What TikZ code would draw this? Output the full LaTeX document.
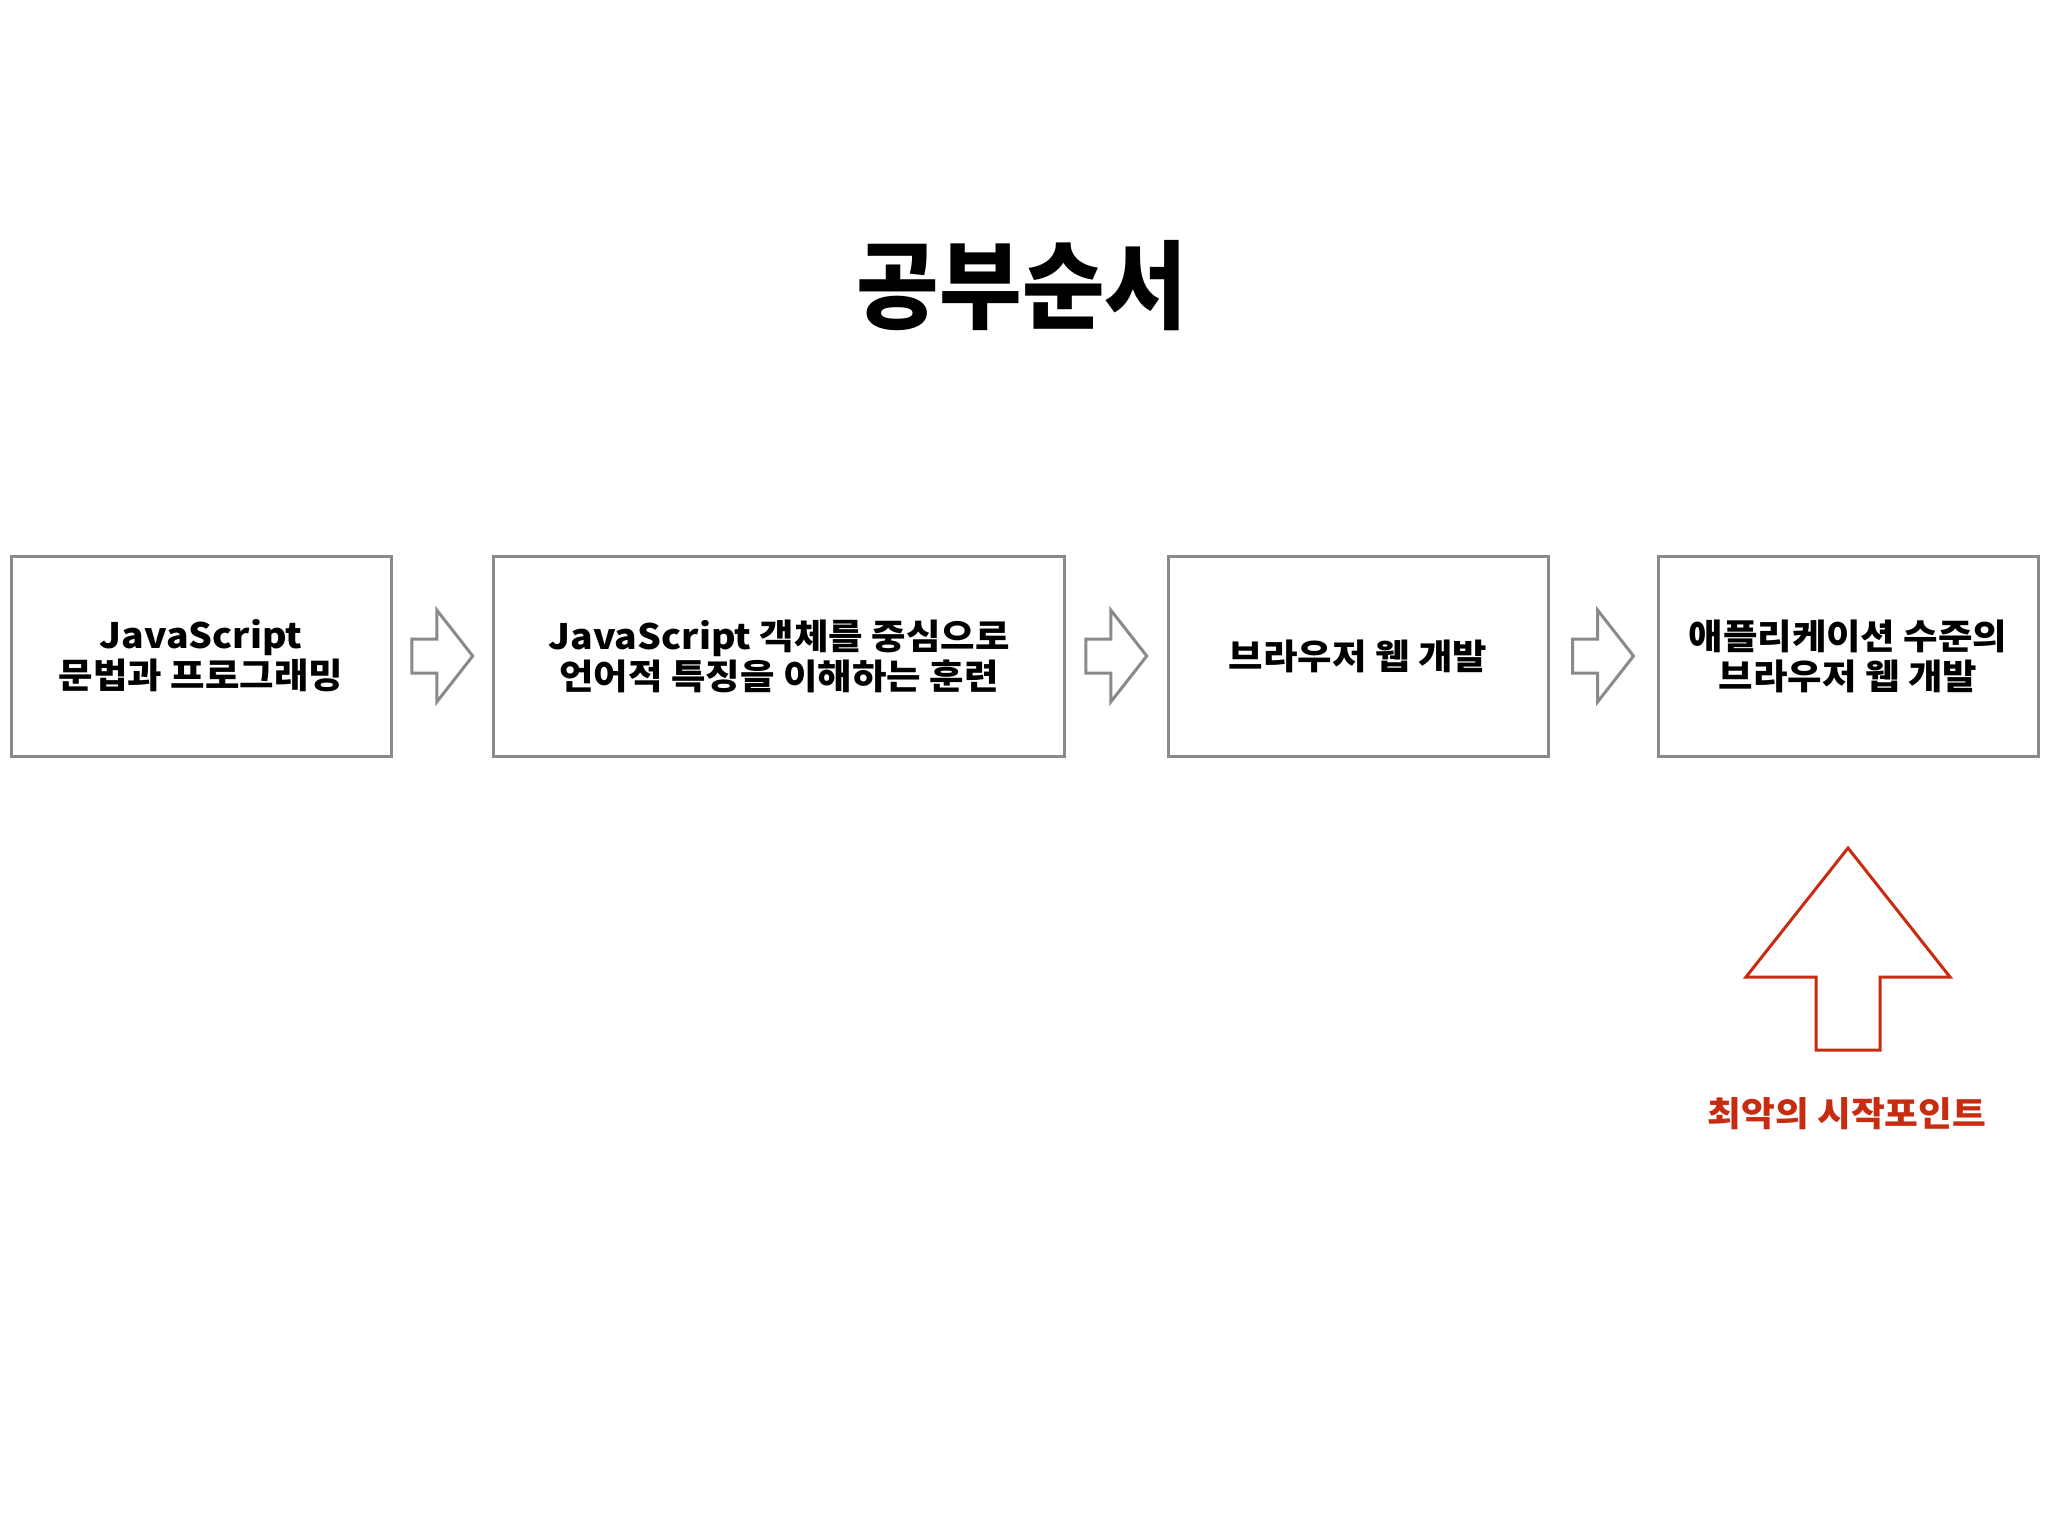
\documentclass[tikz,border=0pt]{standalone}
\usepackage{fontspec}
\usetikzlibrary{calc}
\newfontfamily\krfont{Noto Sans CJK KR}[FakeStretch=1.07]
\newfontfamily\krtitle{Noto Sans CJK KR}[FakeStretch=0.935]
\definecolor{boxgray}{RGB}{138,138,138}
\definecolor{alertred}{RGB}{200,44,16}
\tikzset{
  stepbox/.style={draw=boxgray, line width=3pt, minimum height=200pt, inner sep=0pt,
    align=center, font=\krfont\bfseries\fontsize{35}{40}\selectfont},
  flowarrow/.pic={\draw[boxgray, line width=3pt, line join=miter]
    (-30.5,-17) -- (-5.5,-17) -- (-5.5,-46) -- (30.5,0) -- (-5.5,46) -- (-5.5,17) -- (-30.5,17) -- cycle;},
  titletext/.style={font=\krtitle\bfseries\fontsize{96}{110}\selectfont, inner sep=0pt},
  alerttext/.style={font=\krfont\bfseries\fontsize{34.3}{40}\selectfont, text=alertred, inner sep=0pt},
  alertarrow/.style={draw=alertred, line width=3pt, line join=miter}
}
\begin{document}
\begin{tikzpicture}[x=1pt,y=-1pt]
\fill[white] (0,0) rectangle (2048,1536);
\useasboundingbox (0,0) rectangle (2048,1536);
\node[titletext] (title) at (1022,286) {공부순서};
\node[stepbox, minimum width=380pt] (b1) at (201,656) {JavaScript\\문법과 프로그래밍};
\node[stepbox, minimum width=571pt] (b2) at (779,656) {JavaScript 객체를 중심으로\\언어적 특징을 이해하는 훈련};
\node[stepbox, minimum width=380pt] (b3) at (1358,656) {브라우저 웹 개발};
\node[stepbox, minimum width=380pt] (b4) at (1848,656) {애플리케이션 수준의\\브라우저 웹 개발};
\pic (a1) at ($(b1.east)!0.5!(b2.west)$) {flowarrow};
\pic (a2) at ($(b2.east)!0.5!(b3.west)$) {flowarrow};
\pic (a3) at ($(b3.east)!0.5!(b4.west)$) {flowarrow};
\coordinate (tip) at (1848,848);
\draw[alertarrow] (tip) -- ++(102,129) -- ++(-70,0) -- ++(0,73) -- ++(-64,0) -- ++(0,-73) -- ++(-70,0) -- cycle;
\node[alerttext] (lbl) at (1847,1114) {최악의 시작포인트};
\end{tikzpicture}
\end{document}
